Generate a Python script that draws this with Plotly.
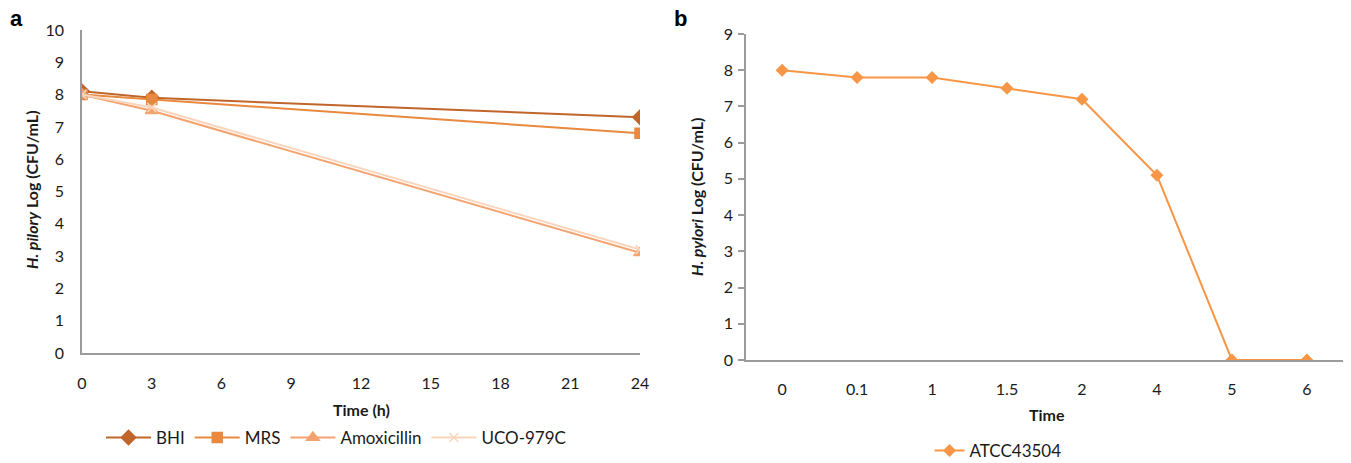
import plotly.graph_objects as go

# Panel a data
time_a = [0, 3, 24]
bhi = [8.1, 7.9, 7.3]
mrs = [8.0, 7.85, 6.8]
amoxicillin = [8.0, 7.5, 3.1]
uco = [8.0, 7.6, 3.2]

# Panel b data
time_b = ["0", "0.1", "1", "1.5", "2", "4", "5", "6"]
atcc = [8.0, 7.8, 7.8, 7.5, 7.2, 5.1, 0.0, 0.0]

W, H = 1351, 463
FONT = "Lato"
AX = "#9b9b9b"

def px(x):
    return x / W

def py(y):
    return (H - y) / H

fig = go.Figure()

series_a = [
    ("BHI", bhi, "#C0662A", "diamond", 11),
    ("MRS", mrs, "#E8893F", "square", 10),
    ("Amoxicillin", amoxicillin, "#F5A36E", "triangle-up", 11),
    ("UCO-979C", uco, "#FAD5BC", "x-thin", 9),
]
for name, vals, col, sym, sz in series_a:
    fig.add_trace(go.Scatter(
        x=time_a, y=vals, name=name, mode="lines+markers",
        line=dict(color=col, width=2),
        marker=dict(symbol=sym, size=sz, color=col,
                    line=dict(color=col, width=1.5)),
        xaxis="x", yaxis="y", legend="legend",
    ))

fig.add_trace(go.Scatter(
    x=time_b, y=atcc, name="ATCC43504", mode="lines+markers",
    line=dict(color="#F79646", width=2),
    marker=dict(symbol="diamond", size=10, color="#F79646"),
    xaxis="x2", yaxis="y2", legend="legend2",
))

tickfont = dict(family=FONT, size=16, color="#1a1a1a")
common = dict(showgrid=False, zeroline=False, showline=True, linecolor=AX, linewidth=1.5,
              automargin=False, tickfont=tickfont, fixedrange=True)

fig.update_layout(
    template="none",
    width=W, height=H, autosize=False,
    margin=dict(l=0, r=0, t=0, b=0, pad=0, autoexpand=False),
    paper_bgcolor="white", plot_bgcolor="white",
    font=dict(family=FONT, color="#1a1a1a"),
    xaxis=dict(domain=[px(82), px(640)], range=[0, 24], tickvals=list(range(0, 25, 3)),
               ticks="", ticklabelstandoff=15, anchor="y", **common),
    yaxis=dict(domain=[py(353), py(30)], range=[0, 10], tickvals=list(range(0, 11)),
               ticks="", ticklabelstandoff=13, anchor="x", **common),
    xaxis2=dict(domain=[px(746), px(1343)], type="category",
                ticks="", ticklabelstandoff=14, anchor="y2", **common),
    yaxis2=dict(domain=[py(360), py(34)], range=[0, 9], tickvals=list(range(0, 10)),
                ticks="outside", ticklen=6, tickcolor=AX, tickwidth=1.5,
                ticklabelstandoff=2, anchor="x2", **common),
    legend=dict(orientation="h", x=px(336), y=py(438), xanchor="center", yanchor="middle",
                font=dict(family=FONT, size=17, color="#1a1a1a"), itemwidth=45,
                tracegroupgap=0, bgcolor="rgba(0,0,0,0)"),
    legend2=dict(orientation="h", x=px(998), y=py(451), xanchor="center", yanchor="middle",
                 font=dict(family=FONT, size=17, color="#1a1a1a"),
                 bgcolor="rgba(0,0,0,0)"),
    showlegend=True,
)

annotations = [
    dict(text="<b>a</b>", x=px(16), y=py(18), font=dict(family="Liberation Sans", size=22, color="black")),
    dict(text="<b>b</b>", x=px(680), y=py(18), font=dict(family="Liberation Sans", size=22, color="black")),
    dict(text="<b>Time (h)</b>", x=px(361), y=py(409), font=dict(family=FONT, size=16)),
    dict(text="<b>Time</b>", x=px(1047), y=py(414), font=dict(family=FONT, size=16)),
    dict(text="<b><i>H. pilory</i> Log (CFU/mL)</b>", x=px(31), y=py(190), textangle=-90,
         font=dict(family=FONT, size=16)),
    dict(text="<b><i>H. pylori</i> Log (CFU/mL)</b>", x=px(697), y=py(197), textangle=-90,
         font=dict(family=FONT, size=16)),
]
for a in annotations:
    a.update(xref="paper", yref="paper", showarrow=False, xanchor="center", yanchor="middle")
fig.update_layout(annotations=annotations)

fig.write_html("out.html")
